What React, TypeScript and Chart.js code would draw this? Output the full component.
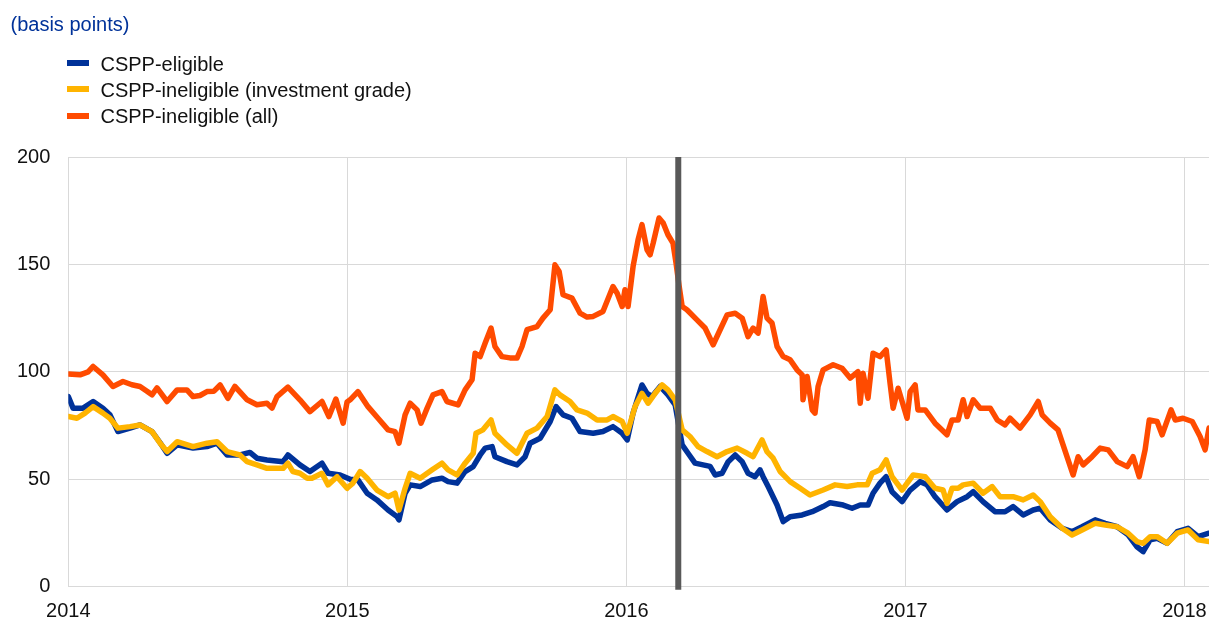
import { useEffect, useRef } from 'react';
import { Chart, registerables } from 'chart.js';

Chart.register(...registerables);

const titleText = '(basis points)';
const seriesNames = ['CSPP-eligible', 'CSPP-ineligible (investment grade)', 'CSPP-ineligible (all)'];
const seriesColors = ['#003299', '#FFB400', '#FF4B00'];
const yearTicks = [2014, 2015, 2016, 2017, 2018];
const valueTicks = [0, 50, 100, 150, 200];
const announcementDate = 2016.186; // CSPP announcement, 10 March 2016

const eligibleDates = [
  2014.000, 2014.017, 2014.053, 2014.089, 2014.124, 2014.149, 2014.178, 2014.221, 2014.257, 2014.300,
  2014.329, 2014.354, 2014.390, 2014.447, 2014.497, 2014.533, 2014.569, 2014.615, 2014.651, 2014.676,
  2014.712, 2014.770, 2014.787, 2014.830, 2014.866, 2014.909, 2014.931, 2014.974, 2015.010, 2015.038,
  2015.071, 2015.106, 2015.146, 2015.178, 2015.185, 2015.207, 2015.225, 2015.261, 2015.304, 2015.339,
  2015.361, 2015.393, 2015.422, 2015.451, 2015.476, 2015.494, 2015.519, 2015.529, 2015.572, 2015.608,
  2015.637, 2015.655, 2015.691, 2015.727, 2015.748, 2015.773, 2015.805, 2015.834, 2015.881, 2015.916,
  2015.952, 2015.985, 2016.003, 2016.024, 2016.056, 2016.074, 2016.092, 2016.121, 2016.149, 2016.175,
  2016.200, 2016.221, 2016.246, 2016.275, 2016.300, 2016.318, 2016.343, 2016.365, 2016.390, 2016.415,
  2016.436, 2016.461, 2016.479, 2016.490, 2016.508, 2016.540, 2016.562, 2016.587, 2016.630, 2016.666,
  2016.705, 2016.730, 2016.777, 2016.809, 2016.838, 2016.866, 2016.884, 2016.909, 2016.931, 2016.952,
  2016.988, 2017.017, 2017.053, 2017.078, 2017.106, 2017.149, 2017.185, 2017.221, 2017.243, 2017.278,
  2017.321, 2017.357, 2017.386, 2017.422, 2017.458, 2017.483, 2017.519, 2017.562, 2017.597, 2017.633,
  2017.680, 2017.716, 2017.759, 2017.798, 2017.830, 2017.852, 2017.877, 2017.902, 2017.938, 2017.974,
  2018.013, 2018.049, 2018.088,
];
const eligibleValues = [
  88.5, 83.1, 83.1, 86.2, 83.1, 80, 72.2, 73.8, 75.3, 72.2,
  67, 62.1, 66, 64.5, 65.2, 66.8, 61.3, 61.3, 62.5, 59.8,
  59, 58.2, 61.3, 56.7, 53.6, 57.5, 52.8, 52, 50, 49.7,
  43.5, 40.4, 35.7, 32.6, 31.1, 43.5, 47.4, 46.6, 49.7, 50.5,
  48.9, 48.2, 53.6, 55.9, 61.3, 64.5, 65.2, 60.5, 58.2, 56.7,
  60.5, 66.8, 69.1, 76.9, 83.8, 80, 78.4, 72.2, 71.4, 72.2,
  74.5, 71.4, 68.3, 80.8, 93.9, 90, 88.5, 93.2, 89.3, 84.6,
  66, 62.1, 57.5, 56.7, 56, 52, 52.8, 58.2, 61.3, 58.2,
  52.8, 51.2, 54.4, 51.2, 46.6, 38, 30.3, 32.6, 33.4, 34.9,
  37.3, 39.1, 38, 36.5, 38, 38, 43.5, 48.2, 51.2, 44.2,
  39.6, 45, 48.9, 47.4, 41.9, 35.7, 39.6, 41.9, 44.2, 39.6,
  34.9, 34.9, 37.3, 33.4, 35.7, 36.5, 31.1, 27.2, 25.6, 27.9,
  31.1, 29.5, 27.9, 24.1, 18.6, 16.3, 21.8, 22.5, 20.2, 25.6,
  27.2, 23.3, 24.9,
];

const igDates = [
  2014.000, 2014.031, 2014.060, 2014.089, 2014.124, 2014.149, 2014.178, 2014.221, 2014.257, 2014.300,
  2014.329, 2014.354, 2014.390, 2014.447, 2014.497, 2014.533, 2014.569, 2014.615, 2014.641, 2014.676,
  2014.712, 2014.770, 2014.787, 2014.805, 2014.830, 2014.856, 2014.873, 2014.909, 2014.931, 2014.963,
  2014.999, 2015.020, 2015.046, 2015.071, 2015.106, 2015.146, 2015.171, 2015.185, 2015.207, 2015.225,
  2015.261, 2015.304, 2015.339, 2015.361, 2015.393, 2015.422, 2015.451, 2015.461, 2015.486, 2015.515,
  2015.529, 2015.572, 2015.608, 2015.644, 2015.680, 2015.716, 2015.744, 2015.762, 2015.798, 2015.823,
  2015.859, 2015.895, 2015.931, 2015.952, 2015.985, 2016.003, 2016.031, 2016.056, 2016.078, 2016.103,
  2016.128, 2016.149, 2016.175, 2016.200, 2016.228, 2016.257, 2016.289, 2016.325, 2016.361, 2016.397,
  2016.433, 2016.454, 2016.486, 2016.504, 2016.526, 2016.551, 2016.587, 2016.623, 2016.658, 2016.705,
  2016.748, 2016.791, 2016.827, 2016.863, 2016.881, 2016.909, 2016.931, 2016.952, 2016.988, 2017.028,
  2017.071, 2017.106, 2017.135, 2017.149, 2017.167, 2017.189, 2017.207, 2017.243, 2017.278, 2017.311,
  2017.339, 2017.386, 2017.422, 2017.458, 2017.483, 2017.519, 2017.562, 2017.597, 2017.633, 2017.680,
  2017.716, 2017.759, 2017.798, 2017.830, 2017.852, 2017.877, 2017.902, 2017.938, 2017.974, 2018.013,
  2018.049, 2018.088,
];
const igValues = [
  79.2, 78.4, 80.8, 83.8, 80.8, 78.4, 73.8, 74.5, 75.3, 72.2,
  66.8, 62.9, 67.5, 65.2, 66.8, 67.5, 62.9, 61.3, 58.2, 56.7,
  55.1, 55.1, 57.5, 53.6, 52.8, 50.5, 50.5, 52.8, 47.4, 51.2,
  45.8, 48.2, 53.6, 50.5, 45, 41.9, 43.5, 35.7, 45.8, 52.8,
  50.5, 54.4, 57.5, 54.4, 52, 57.5, 62.1, 71.4, 73, 77.6,
  71.4, 66, 62.1, 71.4, 73.8, 79.2, 91.6, 89.3, 86.2, 82.3,
  80.8, 77.6, 77.6, 79.2, 76.9, 71.4, 83.8, 90, 85.4, 90,
  93.9, 91.6, 87, 73, 69.9, 65.2, 62.9, 60.5, 62.9, 64.5,
  62.1, 60.5, 68.3, 62.9, 59.8, 53.6, 48.9, 45.8, 42.7, 45,
  47.4, 46.6, 47.4, 47.4, 52.8, 54.4, 59, 51.2, 45, 52,
  51.2, 45.8, 45, 38.8, 45.8, 45.8, 47.4, 48.2, 43.5, 46.6,
  41.9, 41.9, 40.4, 42.7, 39.6, 32.6, 27.2, 24.1, 26.4, 29.5,
  28.7, 27.9, 24.9, 21, 20.2, 23.3, 23.3, 20.2, 24.9, 26.4,
  21.8, 21,
];

const allDates = [
  2014.000, 2014.042, 2014.071, 2014.089, 2014.124, 2014.160, 2014.196, 2014.228, 2014.257, 2014.282,
  2014.300, 2014.318, 2014.354, 2014.390, 2014.425, 2014.447, 2014.472, 2014.497, 2014.522, 2014.544,
  2014.572, 2014.597, 2014.641, 2014.676, 2014.712, 2014.730, 2014.748, 2014.787, 2014.830, 2014.866,
  2014.909, 2014.934, 2014.959, 2014.985, 2014.999, 2015.010, 2015.038, 2015.074, 2015.110, 2015.146,
  2015.171, 2015.185, 2015.207, 2015.225, 2015.250, 2015.264, 2015.286, 2015.307, 2015.339, 2015.357,
  2015.375, 2015.397, 2015.422, 2015.447, 2015.458, 2015.476, 2015.494, 2015.515, 2015.529, 2015.554,
  2015.583, 2015.608, 2015.626, 2015.644, 2015.680, 2015.701, 2015.727, 2015.744, 2015.759, 2015.773,
  2015.805, 2015.834, 2015.859, 2015.881, 2015.916, 2015.952, 2015.967, 2015.985, 2015.995, 2016.006,
  2016.024, 2016.042, 2016.056, 2016.074, 2016.085, 2016.096, 2016.117, 2016.132, 2016.149, 2016.167,
  2016.178, 2016.189, 2016.200, 2016.217, 2016.253, 2016.282, 2016.311, 2016.336, 2016.361, 2016.390,
  2016.415, 2016.436, 2016.454, 2016.472, 2016.490, 2016.504, 2016.522, 2016.540, 2016.562, 2016.587,
  2016.612, 2016.630, 2016.633, 2016.648, 2016.666, 2016.676, 2016.687, 2016.705, 2016.741, 2016.773,
  2016.802, 2016.830, 2016.838, 2016.848, 2016.866, 2016.884, 2016.909, 2016.931, 2016.945, 2016.956,
  2016.974, 2017.006, 2017.017, 2017.035, 2017.045, 2017.071, 2017.106, 2017.149, 2017.167, 2017.189,
  2017.207, 2017.221, 2017.243, 2017.268, 2017.304, 2017.329, 2017.357, 2017.375, 2017.411, 2017.447,
  2017.476, 2017.490, 2017.519, 2017.547, 2017.565, 2017.583, 2017.601, 2017.619, 2017.637, 2017.669,
  2017.698, 2017.727, 2017.759, 2017.795, 2017.816, 2017.838, 2017.859, 2017.874, 2017.902, 2017.920,
  2017.952, 2017.967, 2017.995, 2018.028, 2018.056, 2018.074, 2018.088,
];
const allValues = [
  99, 98.6, 100, 102.5, 98.6, 93.2, 95.5, 94, 93.2, 91,
  89.3, 92.5, 86.2, 91.6, 91.6, 88.5, 89, 90.8, 91, 93.9,
  87.7, 93.2, 87, 84.7, 85.4, 83.1, 88.5, 92.9, 87, 81.5,
  86.2, 79.2, 87.3, 76.1, 86, 87, 90.8, 83.8, 78.4, 73,
  72.2, 66.8, 80, 85.4, 82.3, 76.1, 83.1, 89.3, 90.8, 86.2,
  85.5, 84.6, 91.6, 96.3, 108.7, 107.1, 113.4, 120.4, 111.8, 107.1,
  106.5, 106.4, 111.8, 119.6, 121.1, 125, 128.9, 149.8, 146.7, 135.9,
  134.3, 127.3, 125.5, 125.8, 128.1, 139.7, 136.6, 130.4, 138.2, 130.4,
  149, 161.5, 168.5, 156.8, 154.5, 159.9, 171.6, 169.3, 163.8, 159.9,
  150.6, 140, 130.4, 128.9, 124.2, 120.4, 112.6, 119.6, 126.5, 127.3,
  125, 116.4, 120.4, 118, 135.1, 125, 122.7, 111.8, 107.1, 105.6,
  100.9, 98.6, 87, 97.8, 82.3, 80.8, 93.2, 100.9, 103.3, 101.7,
  97.1, 100.1, 85.4, 99.4, 87.7, 108.7, 107.1, 110.2, 94.7, 83.1,
  92.4, 78.4, 90.8, 93.9, 82.3, 82.3, 76.1, 70.7, 77.6, 77.6,
  87, 79.2, 87, 83.1, 83.1, 77.6, 75.3, 78.4, 73.8, 80,
  86.2, 80, 76.1, 73, 66, 59, 52, 60.5, 56.7, 60.5,
  64.5, 63.7, 58.2, 55.9, 60.5, 51.2, 63.7, 77.6, 76.9, 70.7,
  82.3, 77.6, 78.4, 76.9, 69.9, 63.7, 73.8,
];

const xMin = 2014;
const xMax = 2018.088;

const FONT = '"Liberation Sans", Arial, Helvetica, sans-serif';
const GRID = '#d9d9d9';
const TEXT = '#111111';

function toPoints(dates: number[], values: number[]) {
  return dates.map((x, i) => ({ x, y: values[i] }));
}

const markerPlugin = {
  id: 'announcementMarker',
  afterDatasetsDraw(chart: any) {
    const { ctx, chartArea, scales } = chart;
    const x = scales.x.getPixelForValue(announcementDate);
    ctx.save();
    ctx.strokeStyle = '#595959';
    ctx.lineWidth = 6;
    ctx.beginPath();
    ctx.moveTo(x, chartArea.top);
    ctx.lineTo(x, chartArea.bottom + 3);
    ctx.stroke();
    ctx.restore();
  },
};

export default function App() {
  const ref = useRef<HTMLCanvasElement>(null);

  useEffect(() => {
    if (!ref.current) return;
    const series = [
      { dates: eligibleDates, values: eligibleValues, order: 2 },
      { dates: igDates, values: igValues, order: 1 },
      { dates: allDates, values: allValues, order: 0 },
    ];
    const chart = new Chart(ref.current, {
      type: 'line',
      data: {
        datasets: series.map((s, i) => ({
          label: seriesNames[i],
          data: toPoints(s.dates, s.values),
          borderColor: seriesColors[i],
          backgroundColor: seriesColors[i],
          borderWidth: 5.5,
          pointRadius: 0,
          tension: 0,
          borderJoinStyle: 'round' as const,
          borderCapStyle: 'round' as const,
          order: s.order,
        })),
      },
      options: {
        animation: false,
        responsive: false,
        maintainAspectRatio: false,
        layout: { padding: { top: 157, right: 0, bottom: 0, left: 0 } },
        plugins: {
          legend: { display: false },
          tooltip: { enabled: false },
          title: { display: false },
        },
        scales: {
          x: {
            type: 'linear',
            min: xMin,
            max: xMax,
            afterBuildTicks: (scale: any) => {
              scale.ticks = yearTicks.map((v) => ({ value: v }));
            },
            afterFit: (scale: any) => {
              scale.height = 35.3;
              scale.paddingLeft = 0;
              scale.paddingRight = 0;
            },
            grid: { color: GRID, lineWidth: 1, drawTicks: false },
            border: { display: true, color: GRID },
            ticks: {
              padding: 13,
              color: TEXT,
              font: { family: FONT, size: 20 },
              maxRotation: 0,
              autoSkip: false,
              callback: (v: any) => String(v),
            },
          },
          y: {
            type: 'linear',
            min: 0,
            max: 200,
            afterBuildTicks: (scale: any) => {
              scale.ticks = valueTicks.map((v) => ({ value: v }));
            },
            afterFit: (scale: any) => {
              scale.width = 68.3;
              scale.paddingTop = 0;
              scale.paddingBottom = 0;
            },
            grid: { color: GRID, lineWidth: 1, drawTicks: false },
            border: { display: true, color: GRID },
            ticks: {
              padding: 18,
              color: TEXT,
              font: { family: FONT, size: 20 },
              callback: (v: any) => String(v),
            },
          },
        },
      },
      plugins: [markerPlugin],
    } as any);
    return () => chart.destroy();
  }, []);

  const legendTops = [52.5, 78.8, 105.4];

  return (
    <div
      style={{
        position: 'absolute',
        left: 0,
        top: 0,
        width: 1209,
        height: 622,
        background: '#ffffff',
        fontFamily: FONT,
        overflow: 'hidden',
      }}
    >
      <canvas
        ref={ref}
        width={1209}
        height={622}
        style={{ position: 'absolute', left: 0, top: 0, width: 1209, height: 622 }}
      />
      <div
        style={{
          position: 'absolute',
          left: 10.5,
          top: 12.5,
          fontSize: 20,
          lineHeight: '23px',
          color: '#003299',
          whiteSpace: 'nowrap',
        }}
      >
        {titleText}
      </div>
      {seriesNames.map((name, i) => (
        <div key={name}>
          <div
            style={{
              position: 'absolute',
              left: 67,
              top: legendTops[i] + 7.5,
              width: 22,
              height: 6,
              background: seriesColors[i],
            }}
          />
          <div
            style={{
              position: 'absolute',
              left: 100.5,
              top: legendTops[i],
              fontSize: 20,
              lineHeight: '23px',
              color: TEXT,
              whiteSpace: 'nowrap',
            }}
          >
            {name}
          </div>
        </div>
      ))}
    </div>
  );
}
